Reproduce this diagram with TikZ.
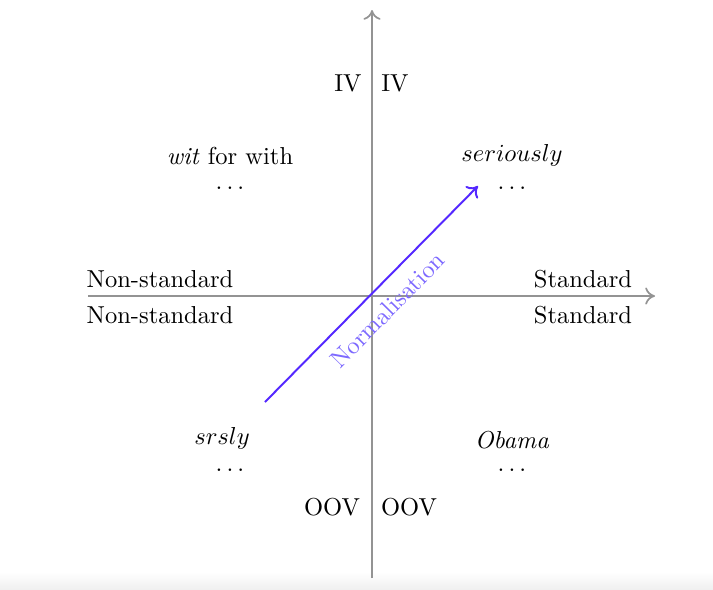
\documentclass[tikz,border=0pt]{standalone}
\usetikzlibrary{arrows.meta}
\definecolor{normc}{RGB}{84,40,255}
\definecolor{normt}{RGB}{125,105,255}
\tikzset{
  axis/.style={draw=gray!85, line width=0.7pt, -{To[length=4pt,width=7pt]}},
  lbl/.style={inner sep=0pt, anchor=center},
  normarrow/.style={draw=normc, line width=0.8pt, -{To[length=4pt,width=7pt]}},
}
\begin{document}
\begin{tikzpicture}[x=0.408pt,y=-0.408pt]
\useasboundingbox (0,0) rectangle (713,589);
\shade[top color=white, bottom color=gray!12] (0,572) rectangle (713,589);
\coordinate (vb) at (372,578);
\coordinate (vt) at (372,10);
\coordinate (hl) at (88,296);
\coordinate (hr) at (655,296);
\draw[axis] (vb) -- (vt);
\draw[axis] (hl) -- (hr);
\node[lbl] (ivl) at (348,83) {IV};
\node[lbl] (ivr) at (395,83) {IV};
\node[lbl] (oovl) at (332,507) {OOV};
\node[lbl] (oovr) at (409,507) {OOV};
\node[lbl] (nsa) at (160,279) {Non-standard};
\node[lbl] (nsb) at (160,315) {Non-standard};
\node[lbl] (sa) at (583,279) {Standard};
\node[lbl] (sb) at (583,315) {Standard};
\node[lbl] (wit) at (230,156) {\textit{wit} for with};
\node[lbl] (witd) at (230,188) {$\ldots$};
\node[lbl] (ser) at (512,155) {$seriously$};
\node[lbl] (serd) at (512,188) {$\ldots$};
\node[lbl] (srs) at (222,438) {$srsly$};
\node[lbl] (srsd) at (230,470) {$\ldots$};
\node[lbl] (oba) at (512,440) {\textit{Obama}};
\node[lbl] (obad) at (512,470) {$\ldots$};
\coordinate (ns) at (265,402);
\coordinate (ne) at (478,186);
\draw[normarrow] (ns) -- node[pos=0.5, sloped, below=2pt, text=normt] (normlbl) {Normalisation} (ne);
\end{tikzpicture}
\end{document}
